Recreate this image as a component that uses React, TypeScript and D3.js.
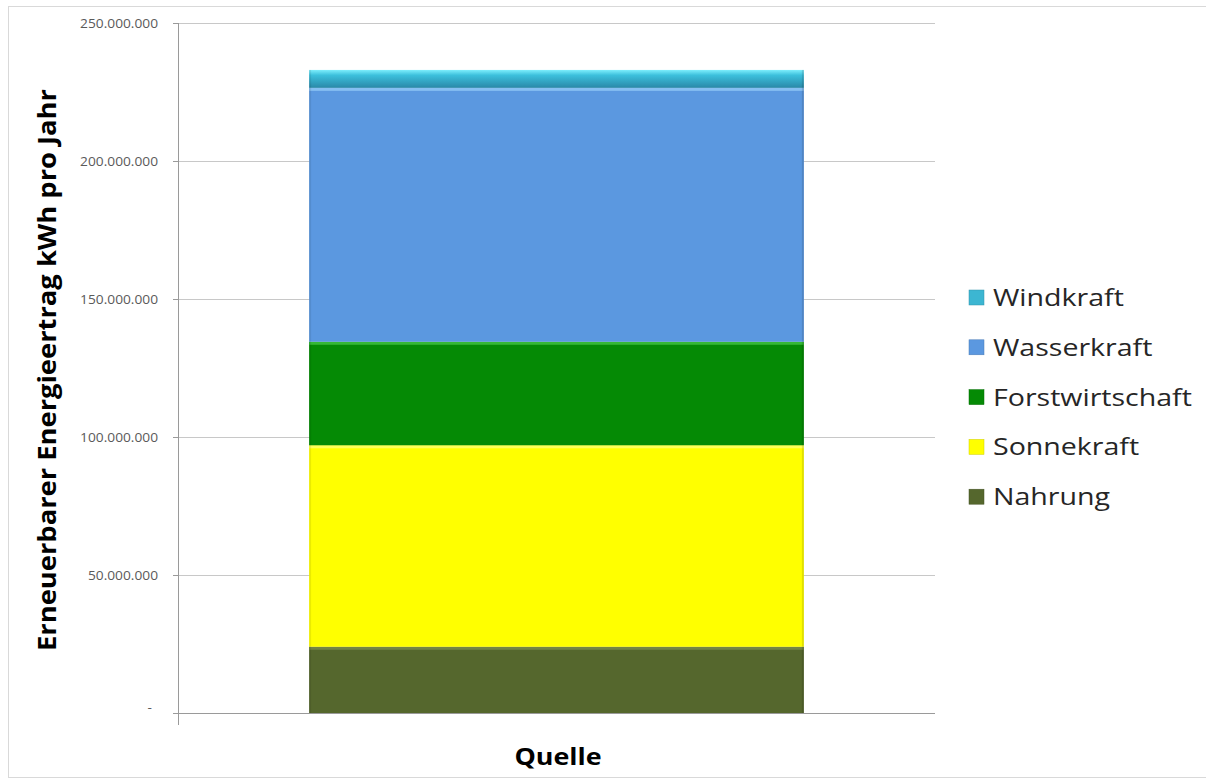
import React from "react";
import * as d3 from "d3";

const categories = ["Quelle"];
const seriesNames = ["Nahrung", "Sonnekraft", "Forstwirtschaft", "Wasserkraft", "Windkraft"];
const seriesValues = [24000000, 73000000, 37500000, 92000000, 6500000];
const seriesColors = ["#55672d", "#ffff00", "#058a05", "#5b98e0", "#3cb6d2"];
const seriesHighlights = ["#7a8a4a", "#ffff66", "#3fbf3f", "#8ec6f5", "#7eeefc"];
const yTicks = [0, 50000000, 100000000, 150000000, 200000000, 250000000];
const legendOrder = ["Windkraft", "Wasserkraft", "Forstwirtschaft", "Sonnekraft", "Nahrung"];

const fmt = (v: number) =>
  v === 0 ? "-" : d3.format(",")(v).replace(/,/g, ".");

const FONT = "Open Sans, sans-serif";

export default function App() {
  const W = 1206, H = 780;
  const plotLeft = 178, plotRight = 935, plotTop = 23, plotBottom = 713;
  const y = d3.scaleLinear().domain([0, 250000000]).range([plotBottom, plotTop]);
  const x = d3.scaleBand().domain(categories).range([plotLeft, plotRight]).paddingInner(0).paddingOuter(0.265);

  const stackData = [Object.fromEntries(seriesNames.map((n, i) => [n, seriesValues[i]]))];
  const stack = d3.stack<any>().keys(seriesNames)(stackData as any);

  const bx = x(categories[0])!;
  const bw = x.bandwidth();

  return (
    <svg width={W} height={H} style={{ position: "absolute", left: 0, top: 0, background: "#fff" }}>
      <defs>
        <linearGradient id="windGrad" x1="0" y1="0" x2="0" y2="1">
          <stop offset="0" stopColor="#7eeefc" />
          <stop offset="0.3" stopColor="#3cc0dc" />
          <stop offset="1" stopColor="#2a88a8" />
        </linearGradient>
      </defs>
      <rect x={8.5} y={6.5} width={1199} height={771} fill="#fff" stroke="#d9d9d9" />
      {/* gridlines */}
      {yTicks.map((t) => (
        <g key={t}>
          {t > 0 && (
            <line x1={plotLeft} x2={plotRight} y1={Math.round(y(t)) + 0.5} y2={Math.round(y(t)) + 0.5} stroke="#c8c8c8" strokeWidth={1} />
          )}
          <line x1={plotLeft - 5} x2={plotLeft} y1={Math.round(y(t)) + 0.5} y2={Math.round(y(t)) + 0.5} stroke="#9a9a9a" />
          <text transform={`translate(${t === 0 ? 152 : 158},${y(t) + (t === 0 ? -1 : 5)}) scale(1.1,1)`} textAnchor="end" fontFamily={FONT} fontSize={12.5} fill="#5a5a5a">
            {fmt(t)}
          </text>
        </g>
      ))}
      {/* axes */}
      <line x1={plotLeft + 0.5} x2={plotLeft + 0.5} y1={plotTop} y2={plotBottom + 12} stroke="#9a9a9a" />
      <line x1={plotLeft} x2={plotRight} y1={plotBottom + 0.5} y2={plotBottom + 0.5} stroke="#9a9a9a" />
      {/* bars */}
      {stack.map((s, i) => {
        const d = s[0];
        const y0 = y(d[0]);
        const y1 = y(d[1]);
        const isWind = seriesNames[i] === "Windkraft";
        return (
          <g key={seriesNames[i]}>
            <rect x={bx} y={y1} width={bw} height={y0 - y1} fill={isWind ? "url(#windGrad)" : seriesColors[i]} />
            {!isWind && <rect x={bx} y={y1} width={bw} height={3} fill={seriesHighlights[i]} opacity={0.85} />}
            <rect x={bx} y={y1} width={2} height={y0 - y1} fill="#000" opacity={0.08} />
            <rect x={bx + bw - 2} y={y1} width={2} height={y0 - y1} fill="#000" opacity={0.12} />
          </g>
        );
      })}
      {/* axis titles */}
      <text transform={`translate(56,370) rotate(-90)`} textAnchor="middle" fontFamily={FONT} fontWeight="bold" fontSize={25} textLength={562} lengthAdjust="spacingAndGlyphs" fill="#000">
        Erneuerbarer Energieertrag kWh pro Jahr
      </text>
      <text transform={`translate(558,765) scale(1.12,1)`} textAnchor="middle" fontFamily={FONT} fontWeight="bold" fontSize={24} fill="#000">
        Quelle
      </text>
      {/* legend */}
      {legendOrder.map((name, i) => {
        const idx = seriesNames.indexOf(name);
        const cy = 297 + i * 49.8;
        return (
          <g key={name}>
            <rect x={969} y={cy - 7} width={15} height={15} fill={seriesColors[idx]} stroke={d3.color(seriesColors[idx])!.darker(0.6).toString()} strokeWidth={0.5} />
            <text transform={`translate(993,${cy + 9}) scale(1.19,1)`} fontFamily={FONT} fontSize={24} fill="#262626">
              {name}
            </text>
          </g>
        );
      })}
    </svg>
  );
}
